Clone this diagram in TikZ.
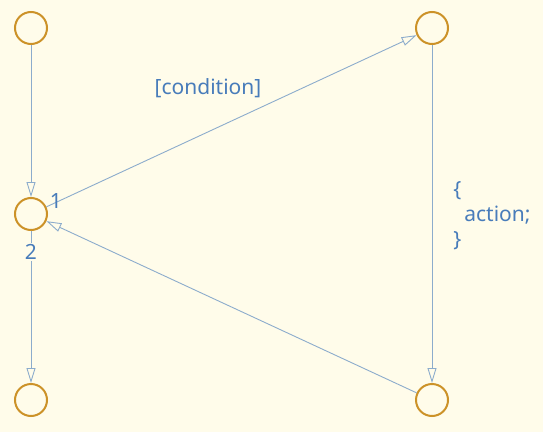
\documentclass[tikz,border=0pt]{standalone}
\usepackage{fontspec}
\setmainfont{Noto Sans}
\usetikzlibrary{arrows.meta,positioning}

\begin{document}
\begin{tikzpicture}[x=1pt, y=1pt]
  % Define colors
  \definecolor{bgcolor}{RGB}{255,252,234}
  \definecolor{statecolor}{RGB}{204,146,40}
  \definecolor{linecolor}{RGB}{140,172,204}
  \definecolor{textcolor}{RGB}{72,124,186}
  \tikzset{
    state/.style={circle, draw=statecolor, line width=2pt, minimum size=32pt, inner sep=0pt},
    trans/.style={draw=linecolor, line width=0.9pt, -{Triangle[open, length=15pt, width=9pt]}},
    lbl/.style={text=textcolor, font=\fontsize{21}{25}\selectfont, inner sep=1pt}
  }

  % Background
  \fill[bgcolor] (0,0) rectangle (543,432);

  % States
  \node[state] (start) at (31,404) {};
  \node[state] (choice) at (31,218) {};
  \node[state] (stop) at (31,32) {};
  \node[state] (target) at (432,404) {};
  \node[state] (back) at (432,32) {};

  % Transitions
  \draw[trans] (start) -- (choice);
  \draw[trans] (choice) -- (stop);
  \draw[trans] (choice) -- (target);
  \draw[trans] (target) -- (back);
  \draw[trans] (back) -- (choice);

  % Labels
  \node[lbl] (guard) at (208,344) {[condition]};
  \node[lbl, align=left] (effect) at (492,216) {\{\\\ \ action;\\\}};
  \node[lbl] (first) at (56,231) {1};
  \node[lbl, fill=bgcolor] (second) at (31,180) {2};
\end{tikzpicture}
\end{document}
